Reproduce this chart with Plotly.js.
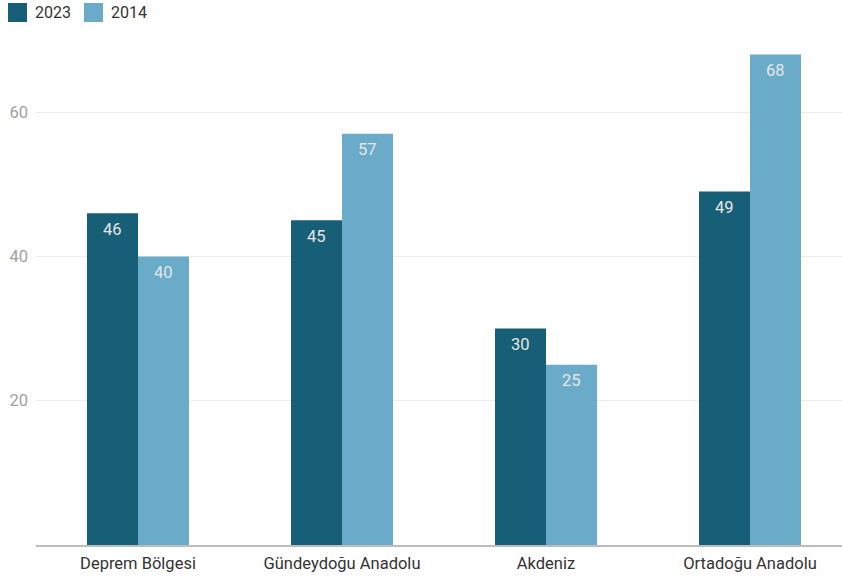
<!DOCTYPE html>
<html>
<head>
<meta charset="utf-8">
<script src="https://cdn.plot.ly/plotly-3.0.1.min.js"></script>
<style>
html,body{margin:0;padding:0;overflow:hidden;background:#fff;}
#chart{width:852px;height:578px;}
</style>
</head>
<body>
<div id="chart"></div>
<script>
const categories = ["Deprem Bölgesi", "Gündeydoğu Anadolu", "Akdeniz", "Ortadoğu Anadolu"];
const seriesNames = ["2023", "2014"];
const values2023 = [46, 45, 30, 49];
const values2014 = [40, 57, 25, 68];
const seriesColors = ["#175e77", "#6aabca"];
const yTicks = [20, 40, 60];

const W = 852, H = 578, ML = 36, MR = 0, MT = 40, MB = 33;
const PW = W - ML - MR, PH = H - MT - MB;
const px = x => (x - ML) / PW;
const py = y => (H - MB - y) / PH;

const seriesValues = [values2023, values2014];
const traces = seriesValues.map((vals, i) => ({
  type: "bar",
  name: seriesNames[i],
  x: categories,
  y: vals,
  marker: {color: seriesColors[i]},
  hoverinfo: "none",
  showlegend: false
}));

const annotations = [];
seriesValues.forEach((vals, i) => {
  vals.forEach((v, j) => {
    annotations.push({
      x: categories[j], y: v, xref: "x", yref: "y",
      text: String(v), showarrow: false,
      xshift: i === 0 ? -25.5 : 25.5, yshift: -16,
      font: {family: "Roboto, sans-serif", size: 16.5, color: "#e6e6e6"}
    });
  });
});

// custom legend
const shapes = [];
const legendX = [8, 84];
seriesNames.forEach((n, i) => {
  shapes.push({
    type: "rect", xref: "paper", yref: "paper",
    x0: px(legendX[i]), x1: px(legendX[i] + 19),
    y0: py(22), y1: py(3),
    fillcolor: seriesColors[i], line: {width: 0}
  });
  annotations.push({
    xref: "paper", yref: "paper", x: px(legendX[i] + 25), y: py(12.5),
    xanchor: "left", yanchor: "middle", showarrow: false, text: n,
    font: {family: "Roboto, sans-serif", size: 16, color: "#333"}
  });
});

const layout = {
  width: W, height: H,
  margin: {l: ML, r: MR, t: MT, b: MB, pad: 0},
  paper_bgcolor: "#fff", plot_bgcolor: "#fff",
  bargap: 0.5, bargroupgap: 0,
  barmode: "group",
  showlegend: false,
  font: {family: "Roboto, sans-serif"},
  xaxis: {
    type: "category",
    showgrid: false,
    showline: true, linecolor: "#bdbdbd", linewidth: 2,
    ticks: "", ticklen: 0, ticklabelstandoff: 2,
    tickfont: {family: "Roboto, sans-serif", size: 16.5, color: "#333"},
    zeroline: false, fixedrange: true
  },
  yaxis: {
    range: [0, 70],
    tickvals: yTicks, ticktext: yTicks.map(String),
    showgrid: true, gridcolor: "#ececec", gridwidth: 1,
    zeroline: false, showline: false,
    ticks: "", ticklabelstandoff: 7,
    tickfont: {family: "Roboto, sans-serif", size: 16.5, color: "#a0a0a0"},
    fixedrange: true
  },
  shapes: shapes,
  annotations: annotations
};

Plotly.newPlot("chart", traces, layout, {displayModeBar: false, staticPlot: true});
</script>
</body>
</html>
